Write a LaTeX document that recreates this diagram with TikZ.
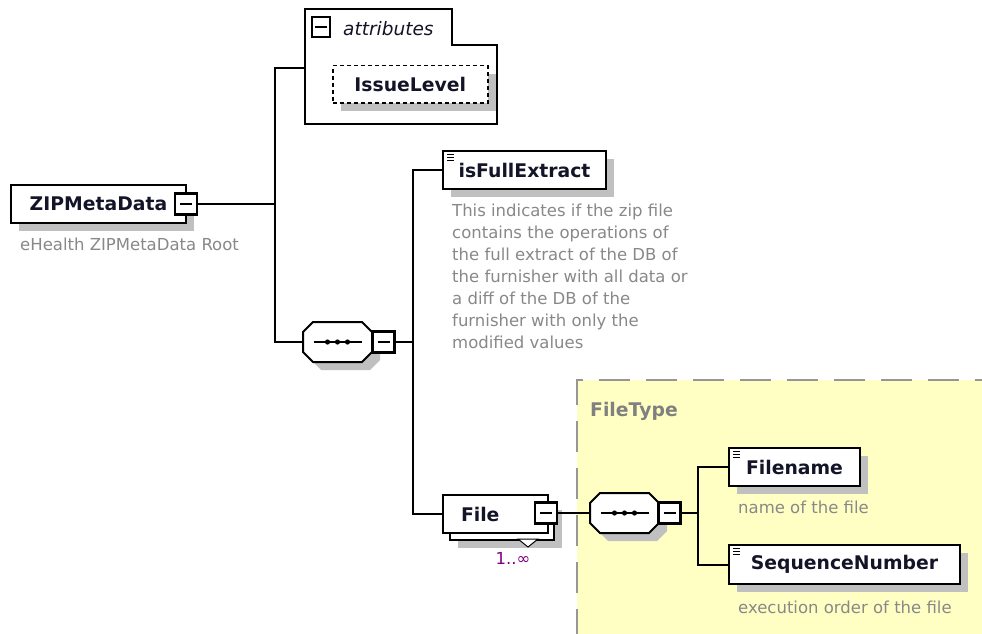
\documentclass[tikz,border=0pt]{standalone}
\usepackage{fontspec}
\setmainfont{DejaVu Sans}
\usetikzlibrary{shadows}

\definecolor{shadowgray}{RGB}{192,192,192}
\definecolor{descgray}{RGB}{136,136,136}
\definecolor{typebg}{RGB}{255,255,196}
\definecolor{typeline}{RGB}{150,150,150}
\definecolor{occur}{RGB}{128,0,128}
\definecolor{ink}{RGB}{20,20,40}

\newcommand{\labelfont}{\fontsize{18.8}{22}\selectfont\bfseries}
\newcommand{\descfont}{\fontsize{16.5}{22}\selectfont}
\newcommand{\simpleicon}[1]{\draw[line width=1pt] ([shift={(5,4)}]#1.north west) --++ (7,0)
	([shift={(5,7)}]#1.north west) --++ (7,0) ([shift={(5,10)}]#1.north west) --++ (7,0)}
\newcommand{\seqbox}[3]{
	\begin{scope}[shift={(#2+8,#3+8)}]
	\fill[shadowgray] (-24.5,-20) -- (24.5,-20) -- (34.5,-10) -- (34.5,10) -- (24.5,20) -- (-24.5,20) -- (-34.5,10) -- (-34.5,-10) -- cycle;
	\end{scope}
	\begin{scope}[shift={(#2,#3)}]
	\filldraw[thickline, fill=white] (-24.5,-20) -- (24.5,-20) -- (34.5,-10) -- (34.5,10) -- (24.5,20) -- (-24.5,20) -- (-34.5,10) -- (-34.5,-10) -- cycle;
	\draw[line width=1.5pt] (-24,0) -- (24,0);
	\fill (-10,0) circle (2.6) (0,0) circle (2.6) (10,0) circle (2.6);
	\node[inner sep=0pt, minimum width=69, minimum height=40] (#1) at (0,0) {};
	\end{scope}}

\tikzset{
	thickline/.style={line width=2pt},
	plain/.style={draw, thickline, fill=white, font=\labelfont, text=ink, inner sep=0pt, anchor=north west},
	elem/.style={plain, drop shadow={shadow xshift=8pt, shadow yshift=-8pt, fill=shadowgray, opacity=1}},
	minus/.style={draw, line width=2.4pt, fill=white, inner sep=0pt, minimum width=22, minimum height=21,
		path picture={\draw[line width=2pt] ([xshift=-6pt]path picture bounding box.center) -- ([xshift=6pt]path picture bounding box.center);}},
	desc/.style={font=\descfont, text=descgray, inner sep=0pt},
	typelbl/.style={font=\labelfont, text=gray, inner sep=0pt, anchor=base west},
	typeborder/.style={thickline, typeline, dash pattern=on 31pt off 16pt},
	attrlbl/.style={font=\fontsize{18.5}{20}\selectfont\itshape, text=ink, inner sep=0pt, anchor=west}
}

\begin{document}
\begin{tikzpicture}[x=1pt, y=-1pt]
	\useasboundingbox (0,0) rectangle (982,634);
%Complex type area
	\fill[typebg] (577,380) rectangle (990,640);
	\draw[typeborder] (577,640) -- (577,380) -- (990,380);
	\node[typelbl] (filetype) at (590,416) {FileType};
%Root element
	\node[elem, minimum width=175, minimum height=38] (zip) at (10,184) {ZIPMetaData};
	\node[minus] (zipmin) at (186,204) {};
	\node[desc, anchor=base west] (zipdesc) at (20,250) {eHealth ZIPMetaData Root};
%Attributes
	\filldraw[thickline, fill=white] (305,9) -- (452,9) -- (452,45) -- (497,45) -- (497,124) -- (305,124) -- cycle;
	\coordinate (attrin) at (305,68);
	\node[minus, line width=2pt, minimum width=18, minimum height=20] (attrmin) at (321,27) {};
	\node[attrlbl] (attrname) at (343,29) {attributes};
	\node[elem, line width=1.5pt, dash pattern=on 4pt off 3pt, minimum width=155, minimum height=37] (issue) at (332,65) {IssueLevel};
%First sequence
	\seqbox{seqA}{337.5}{342};
	\node[minus] (seqAmin) at (383.5,342) {};
	\node[elem, minimum width=163, minimum height=38] (full) at (442,150) {isFullExtract};
	\simpleicon{full};
	\node[desc, anchor=north west, align=left] (fulldesc) at (452,204) {This indicates if the zip file\\contains the operations of\\the full extract of the DB of\\the furnisher with all data or\\a diff of the DB of the\\furnisher with only the\\modified values};
	\node[elem, minimum width=104, minimum height=38] (fileback) at (449,501) {};
	\node[plain, minimum width=105, minimum height=38, align=left, text width=87, inner xsep=9pt] (file) at (442,494) {\hspace*{9pt}File};
	\filldraw[line width=1pt, fill=white] (518,539) -- (538,539) -- (528,547) -- cycle;
	\node[minus] (filemin) at (546,513) {};
	\node[desc, text=occur, anchor=base] (fileocc) at (513,564) {1..∞};
%Second sequence
	\seqbox{seqB}{624.5}{513};
	\node[minus] (seqBmin) at (669.5,513) {};
	\node[elem, minimum width=131, minimum height=38] (fname) at (728,447) {Filename};
	\simpleicon{fname};
	\node[desc, anchor=base west] (fnamedesc) at (738,513) {name of the file};
	\node[elem, minimum width=231, minimum height=39] (seqnum) at (728,544) {SequenceNumber};
	\simpleicon{seqnum};
	\node[desc, anchor=base west] (seqnumdesc) at (738,613) {execution order of the file};
%Links
	\coordinate (trunk) at (275,204);
	\coordinate (busA) at (413,342);
	\coordinate (busB) at (698,513);
	\draw[thickline] (zipmin.east) -- (trunk);
	\draw[thickline] (attrin) -| (trunk) |- (seqA.west);
	\draw[thickline] (seqAmin.east) -- (busA);
	\draw[thickline] (full.west) -| (busA) |- (file.west);
	\draw[thickline] (filemin.east) -- (seqB.west);
	\draw[thickline] (seqBmin.east) -- (busB);
	\draw[thickline] (fname.west) -| (busB) |- (seqnum.west);
\end{tikzpicture}
\end{document}
